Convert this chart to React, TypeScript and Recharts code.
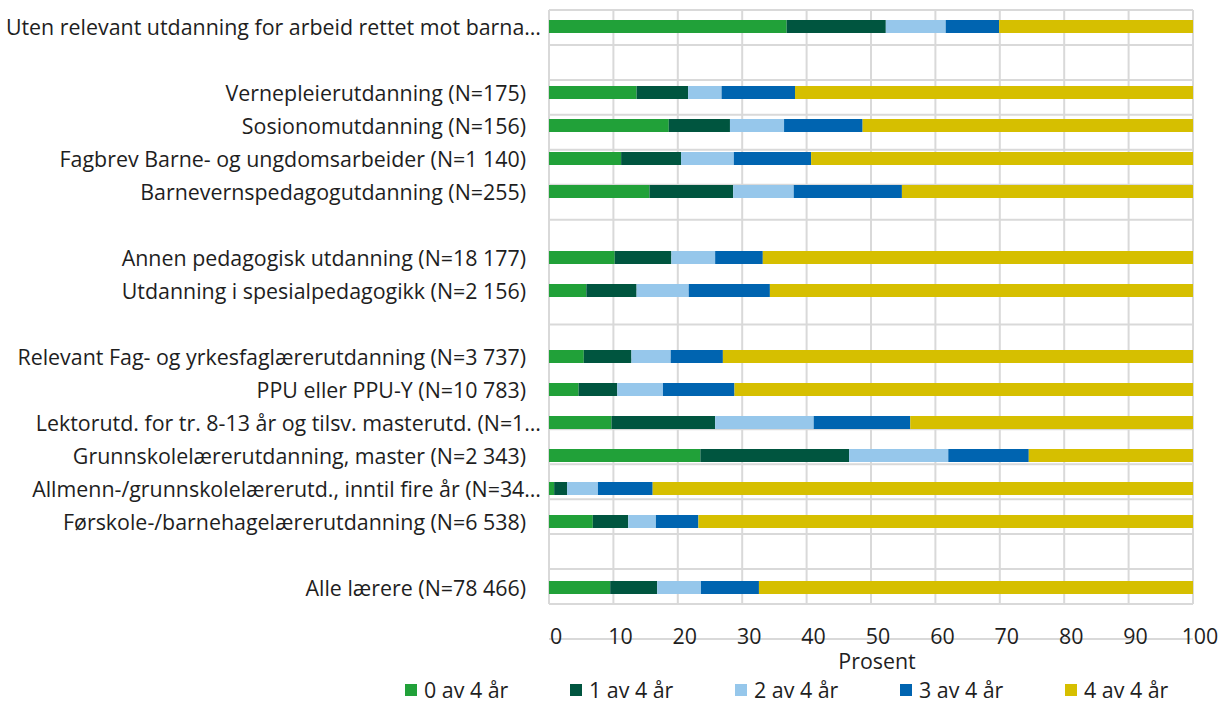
import React from "react";
import { BarChart, Bar, XAxis, YAxis, CartesianGrid, Legend } from "recharts";

// kategorier (tomme rader = mellomrom i figuren)
const categories = [
  "Uten relevant utdanning for arbeid rettet mot barna…",
  "",
  "Vernepleierutdanning (N=175)",
  "Sosionomutdanning (N=156)",
  "Fagbrev Barne- og ungdomsarbeider (N=1 140)",
  "Barnevernspedagogutdanning (N=255)",
  "",
  "Annen pedagogisk utdanning (N=18 177)",
  "Utdanning i spesialpedagogikk (N=2 156)",
  "",
  "Relevant Fag- og yrkesfaglærerutdanning (N=3 737)",
  "PPU eller PPU-Y (N=10 783)",
  "Lektorutd. for tr. 8-13 år og tilsv. masterutd. (N=1…",
  "Grunnskolelærerutdanning, master (N=2 343)",
  "Allmenn-/grunnskolelærerutd., inntil fire år (N=34…",
  "Førskole-/barnehagelærerutdanning (N=6 538)",
  "",
  "Alle lærere (N=78 466)",
];

const years0 = [36.9, null, 13.6, 18.6, 11.2, 15.6, null, 10.2, 5.8, null, 5.4, 4.6, 9.7, 23.5, 0.8, 6.8, null, 9.5];
const years1 = [15.4, null, 8.0, 9.5, 9.3, 13.0, null, 8.8, 7.8, null, 7.4, 6.0, 16.1, 23.1, 2.0, 5.5, null, 7.3];
const years2 = [9.3, null, 5.2, 8.4, 8.2, 9.4, null, 6.8, 8.1, null, 6.1, 7.1, 15.3, 15.4, 4.8, 4.3, null, 6.8];
const years3 = [8.3, null, 11.4, 12.2, 12.0, 16.8, null, 7.4, 12.6, null, 8.1, 11.1, 15.0, 12.5, 8.5, 6.6, null, 9.0];
const years4 = [30.1, null, 61.8, 51.3, 59.3, 45.2, null, 66.8, 65.7, null, 73.0, 71.2, 43.9, 25.5, 83.9, 76.8, null, 67.4];

const seriesNames = ["0 av 4 år", "1 av 4 år", "2 av 4 år", "3 av 4 år", "4 av 4 år"];
const colors = ["#21a139", "#00553f", "#96c7eb", "#0064b0", "#d6bf00"];
const xTicks = [0, 10, 20, 30, 40, 50, 60, 70, 80, 90, 100];
const rowBounds = categories.map((_c, i) => i).concat(categories.length);

const data = categories.map((label, i) => ({
  key: i,
  label,
  s0: years0[i],
  s1: years1[i],
  s2: years2[i],
  s3: years3[i],
  s4: years4[i],
}));

const FONT = '"Open Sans", "Noto Sans", sans-serif';
const FS = 21.4;

const CategoryTick = (props: any) => {
  const { x, y, payload } = props;
  const text = categories[payload.value] ?? "";
  const cut = text.endsWith("…");
  return (
    <text
      x={cut ? x + 15 : x}
      y={y}
      textAnchor="end"
      dominantBaseline="central"
      fontSize={FS}
      fill="#1e1e1e"
      fontFamily={FONT}
    >
      {text}
    </text>
  );
};

const LegendContent = () => (
  <div style={{ display: "flex", height: 28, paddingTop: 6, boxSizing: "border-box", fontFamily: FONT }}>
    {seriesNames.map((n, i) => (
      <div
        key={n}
        style={{ flex: "0 0 165px", display: "flex", alignItems: "center", fontSize: FS, color: "#1e1e1e", lineHeight: "20px", height: 20, whiteSpace: "nowrap" }}
      >
        <span style={{ width: 12, height: 12, background: colors[i], display: "inline-block", marginRight: 7 }} />
        {n}
      </div>
    ))}
  </div>
);

export default function App() {
  return (
    <div style={{ position: "absolute", left: 0, top: 0, fontFamily: FONT }}>
      <BarChart
        width={1221}
        height={702}
        data={data}
        layout="vertical"
        margin={{ top: 10, right: 28, bottom: 0, left: 0 }}
        barSize={13}
      >
        <CartesianGrid yAxisId="grid" stroke="#d9d9d9" strokeWidth={2} />
        <XAxis
          type="number"
          domain={[0, 100]}
          ticks={xTicks}
          axisLine={false}
          tickLine={false}
          tickSize={0}
          tickMargin={25}
          height={70}
          tick={{ fontSize: FS, fill: "#1e1e1e", dx: 7, fontFamily: FONT }}
          label={{ value: "Prosent", position: "insideBottom", offset: 5, dx: 6, fontSize: FS, fill: "#1e1e1e", fontFamily: FONT }}
        />
        <YAxis
          type="category"
          dataKey="key"
          width={549}
          axisLine={false}
          tickLine={false}
          tickSize={0}
          tickMargin={23}
          interval={0}
          tick={<CategoryTick />}
        />
        <YAxis yAxisId="grid" type="number" domain={[0, categories.length]} ticks={rowBounds} hide />
        {["s0", "s1", "s2", "s3", "s4"].map((k, i) => (
          <Bar key={k} dataKey={k} name={seriesNames[i]} stackId="a" fill={colors[i]} isAnimationActive={false} />
        ))}
        <Legend
          verticalAlign="bottom"
          content={<LegendContent />}
          wrapperStyle={{ left: 405, width: 810, bottom: 0 }}
        />
      </BarChart>
    </div>
  );
}
